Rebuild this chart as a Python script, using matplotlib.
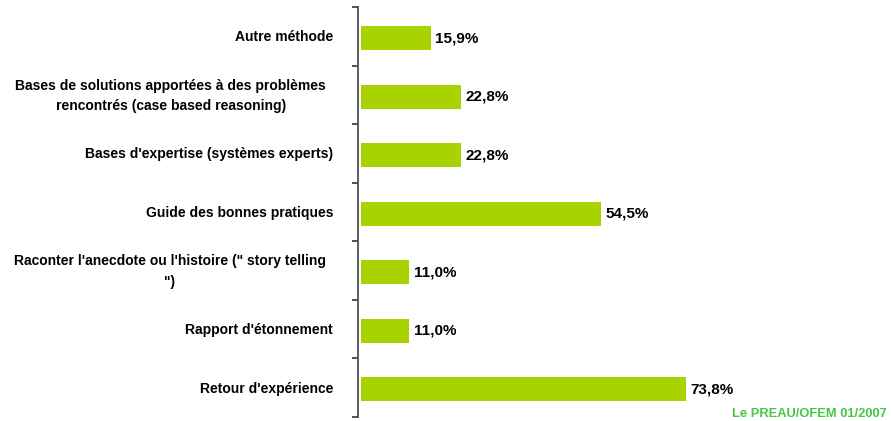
import matplotlib
matplotlib.use("Agg")
import matplotlib.pyplot as plt
from matplotlib.ticker import FixedLocator
import matplotlib.transforms as mtransforms

categories = [
    "Autre méthode",
    "Bases de solutions apportées à des problèmes\nrencontrés (case based reasoning)",
    "Bases d'expertise (systèmes experts)",
    "Guide des bonnes pratiques",
    "Raconter l'anecdote ou l'histoire (\" story telling\n\")",
    "Rapport d'étonnement",
    "Retour d'expérience",
]
values = [15.9, 22.8, 22.8, 54.5, 11.0, 11.0, 73.8]
source = "Le PREAU/OFEM 01/2007"

plt.rcParams['font.family'] = ['Liberation Sans', 'DejaVu Sans']

W, H = 892, 421
fig = plt.figure(figsize=(W / 100, H / 100), dpi=100)
left_px, right_px, top_px, bot_px = 360.5, 802, 7, 417
ax = fig.add_axes([left_px / W, 1 - bot_px / H, (right_px - left_px) / W, (bot_px - top_px) / H])

pos = list(range(len(categories)))
bar_shift = 0.03
ax.barh([p + bar_shift for p in pos], values, height=0.41, color="#A8D300",
        edgecolor="none", zorder=2)
ax.set_xlim(0, (right_px - left_px) / 4.41)
ax.set_ylim(len(categories) - 0.5, -0.5)

for p, v in zip(pos, values):
    ax.annotate(f"{v:.1f}%".replace(".", ","), xy=(v, p + bar_shift), xytext=(3.5, 0),
                textcoords="offset points", ha="left", va="center",
                fontsize=11, fontweight="bold", color="#000000")

# category labels
ax.set_yticks(pos)
ax.set_yticklabels([])
trans = mtransforms.blended_transform_factory(ax.transAxes, ax.transData)
for p, c in zip(pos, categories):
    extra = 7 if "\n" in c else 0
    t = mtransforms.offset_copy(trans, fig=fig, x=-(27.5 + extra), y=-1, units="dots")
    ax.text(0, p, c, transform=t, ha="right", va="center", multialignment="center",
            linespacing=1.6, fontsize=10, fontweight="bold", color="#000000")

ax.yaxis.set_minor_locator(FixedLocator([i - 0.5 for i in range(len(categories) + 1)]))
ax.tick_params(axis="y", which="major", length=0)
ax.tick_params(axis="y", which="minor", length=4, width=1.2, color="#333333", direction="out")
ax.set_xticks([])

for s in ["top", "right", "bottom"]:
    ax.spines[s].set_visible(False)
ax.spines["left"].set_color("#505050")
ax.spines["left"].set_linewidth(1.3)
ax.spines["left"].set_position(("outward", 1.5))

fig.text(887 / W, 1 - 414 / H, source, ha="right", va="center",
         fontsize=9.3, fontweight="bold", color="#44C844")

fig.savefig("out.png", dpi=100, facecolor="white")
